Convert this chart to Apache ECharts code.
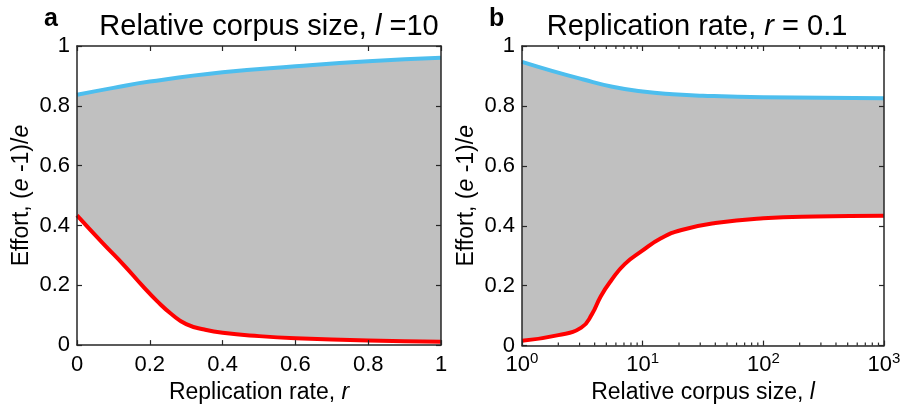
<!DOCTYPE html>
<html>
<head>
<meta charset="utf-8">
<script src="https://cdn.jsdelivr.net/npm/echarts@6/dist/echarts.min.js"></script>
<style>
html,body{margin:0;padding:0;background:#fff;}
#c{width:904px;height:409px;}
</style>
</head>
<body>
<div id="c"></div>
<script>
// Panel a: relative corpus size l = 10, x = replication rate r
var leftRBlue = [0, 0.1, 0.2, 0.4, 0.6, 0.8, 1];
var leftBlue  = [0.837, 0.860, 0.881, 0.912, 0.932, 0.949, 0.961];
var leftRRed  = [0, 0.07, 0.13, 0.18, 0.22, 0.26, 0.3, 0.35, 0.4, 0.5, 0.6, 0.8, 1];
var leftRed   = [0.434, 0.342, 0.266, 0.198, 0.147, 0.103, 0.070, 0.052, 0.041, 0.030, 0.023, 0.015, 0.011];

// Panel b: replication rate r = 0.1, x = relative corpus size l (log)
var rightLBlue = [1, 1.77, 3.17, 5.62, 10, 17.8, 31.6, 100, 1000];
var rightBlue  = [0.947, 0.917, 0.889, 0.864, 0.848, 0.839, 0.834, 0.829, 0.826];
var rightLRed  = [1, 2, 3.1, 3.8, 4.5, 5.5, 7.1, 9.8, 14.3, 21, 40, 100, 270, 1000];
var rightRed   = [0.016, 0.035, 0.060, 0.105, 0.165, 0.218, 0.272, 0.315, 0.359, 0.386, 0.409, 0.425, 0.431, 0.433];

var minorTicks = [2,3,4,5,6,7,8,9,20,30,40,50,60,70,80,90,200,300,400,500,600,700,800,900];

var titles = ['Relative corpus size, ', 'l', ' =10', 'Replication rate, ', 'r', ' = 0.1'];
var panelLetters = ['a', 'b'];

var FONT = 'Liberation Sans, Arial, Helvetica, sans-serif';
var AX = '#262626';
var BLUE = '#4DBEEE', RED = '#FF0000', GRAY = '#C0C0C0';

function zip(xs, ys){ return xs.map(function(x,i){ return [x, ys[i]]; }); }

var chart = echarts.init(document.getElementById('c'), null, {renderer:'canvas'});

function axisBase(extra){
  var o = {
    z: 10,
    axisLine:{show:true, onZero:false, lineStyle:{color:AX, width:1.5}},
    axisTick:{show:true, inside:true, length:5, lineStyle:{color:AX, width:1.2}},
    splitLine:{show:false},
    axisLabel:{show:false}
  };
  for (var k in extra) o[k] = extra[k];
  return o;
}

var nameRich = {
  n:{fontFamily:FONT, fontSize:23, color:'#000', fontWeight:'normal'},
  i:{fontFamily:FONT, fontSize:23, color:'#000', fontStyle:'italic', fontWeight:'normal'}
};
var titleRich = {
  n:{fontFamily:FONT, fontSize:29, color:'#000', fontWeight:'normal'},
  i:{fontFamily:FONT, fontSize:29, color:'#000', fontStyle:'italic', fontWeight:'normal'}
};

var yLabel = {show:true, fontFamily:FONT, fontSize:22, color:'#000', margin:7};

var option = {
  animation:false,
  backgroundColor:'#fff',
  title:[
    {text:'{n|'+titles[0]+'}{i|'+titles[1]+'}{n|'+titles[2]+'}', left:264, top:7, textAlign:'center',
     textStyle:{fontWeight:'normal', rich:titleRich}},
    {text:'{n|'+titles[3]+'}{i|'+titles[4]+'}{n|'+titles[5]+'}', left:692, top:7, textAlign:'center',
     textStyle:{fontWeight:'normal', rich:titleRich}},
    {text:panelLetters[0], left:39, top:2, textStyle:{fontFamily:FONT, fontSize:25, fontWeight:'bold', color:'#000'}},
    {text:panelLetters[1], left:484, top:2, textStyle:{fontFamily:FONT, fontSize:25, fontWeight:'bold', color:'#000'}}
  ],
  grid:[
    {left:77, top:46, width:364, height:303},
    {left:522, top:46, width:362, height:303}
  ],
  xAxis:[
    axisBase({type:'value', gridIndex:0, position:'bottom', min:0, max:1, interval:0.2,
      axisLabel:{show:true, fontFamily:FONT, fontSize:22, color:'#000', margin:9},
      name:'{n|Replication rate, }{i|r}', nameLocation:'middle', nameGap:31,
      nameTextStyle:{rich:nameRich}}),
    axisBase({type:'value', gridIndex:0, position:'top', min:0, max:1, interval:0.2}),
    axisBase({type:'log', logBase:10, gridIndex:1, position:'bottom', min:1, max:1000,
      axisLabel:{show:true, margin:6, formatter:function(v){ return '{b|10}{s|'+Math.round(Math.log10(v))+'}'; },
        rich:{b:{fontFamily:FONT, fontSize:22, color:'#000'}, s:{fontFamily:FONT, fontSize:15, color:'#000', padding:[0,0,12,0]}}},
      name:'{n|Relative corpus size, }{i|l}', nameLocation:'middle', nameGap:31,
      nameTextStyle:{rich:nameRich}}),
    axisBase({type:'log', logBase:10, gridIndex:1, position:'top', min:1, max:1000})
  ],
  yAxis:[
    axisBase({type:'value', gridIndex:0, position:'left', min:0, max:1, interval:0.2, axisLabel:yLabel,
      name:'{n|Effort, (}{i|e}{n| -1)/}{i|e}', nameLocation:'middle', nameGap:44, nameRotate:90,
      nameTextStyle:{rich:nameRich}}),
    axisBase({type:'value', gridIndex:0, position:'right', min:0, max:1, interval:0.2}),
    axisBase({type:'value', gridIndex:1, position:'left', min:0, max:1, interval:0.2, axisLabel:yLabel,
      name:'{n|Effort, (}{i|e}{n| -1)/}{i|e}', nameLocation:'middle', nameGap:44, nameRotate:90,
      nameTextStyle:{rich:nameRich}}),
    axisBase({type:'value', gridIndex:1, position:'right', min:0, max:1, interval:0.2})
  ],
  series:[
    {type:'line', xAxisIndex:0, yAxisIndex:0, data:zip(leftRBlue,leftBlue), smooth:0.5,
     showSymbol:false, lineStyle:{color:BLUE, width:4}, areaStyle:{color:GRAY, opacity:1, origin:'start'}, z:2},
    {type:'line', xAxisIndex:0, yAxisIndex:0, data:zip(leftRRed,leftRed), smooth:0.5,
     showSymbol:false, lineStyle:{color:RED, width:4}, areaStyle:{color:'#fff', opacity:1, origin:'start'}, z:3},
    {type:'line', xAxisIndex:2, yAxisIndex:2, data:zip(rightLBlue,rightBlue), smooth:0.5,
     showSymbol:false, lineStyle:{color:BLUE, width:4}, areaStyle:{color:GRAY, opacity:1, origin:'start'}, z:2},
    {type:'line', xAxisIndex:2, yAxisIndex:2, data:zip(rightLRed,rightRed), smooth:0.5,
     showSymbol:false, lineStyle:{color:RED, width:4}, areaStyle:{color:'#fff', opacity:1, origin:'start'}, z:3},
    {type:'custom', xAxisIndex:2, yAxisIndex:2, z:20, silent:true, clip:false,
     data:minorTicks.map(function(v){return [v];}),
     renderItem:function(params, api){
       var b = api.coord([api.value(0), 0]);
       var t = api.coord([api.value(0), 1]);
       return {type:'group', children:[
         {type:'line', shape:{x1:b[0], y1:b[1], x2:b[0], y2:b[1]-3}, style:{stroke:AX, lineWidth:1.2}},
         {type:'line', shape:{x1:t[0], y1:t[1], x2:t[0], y2:t[1]+3}, style:{stroke:AX, lineWidth:1.2}}
       ]};
     }}
  ]
};
chart.setOption(option);
</script>
</body>
</html>
